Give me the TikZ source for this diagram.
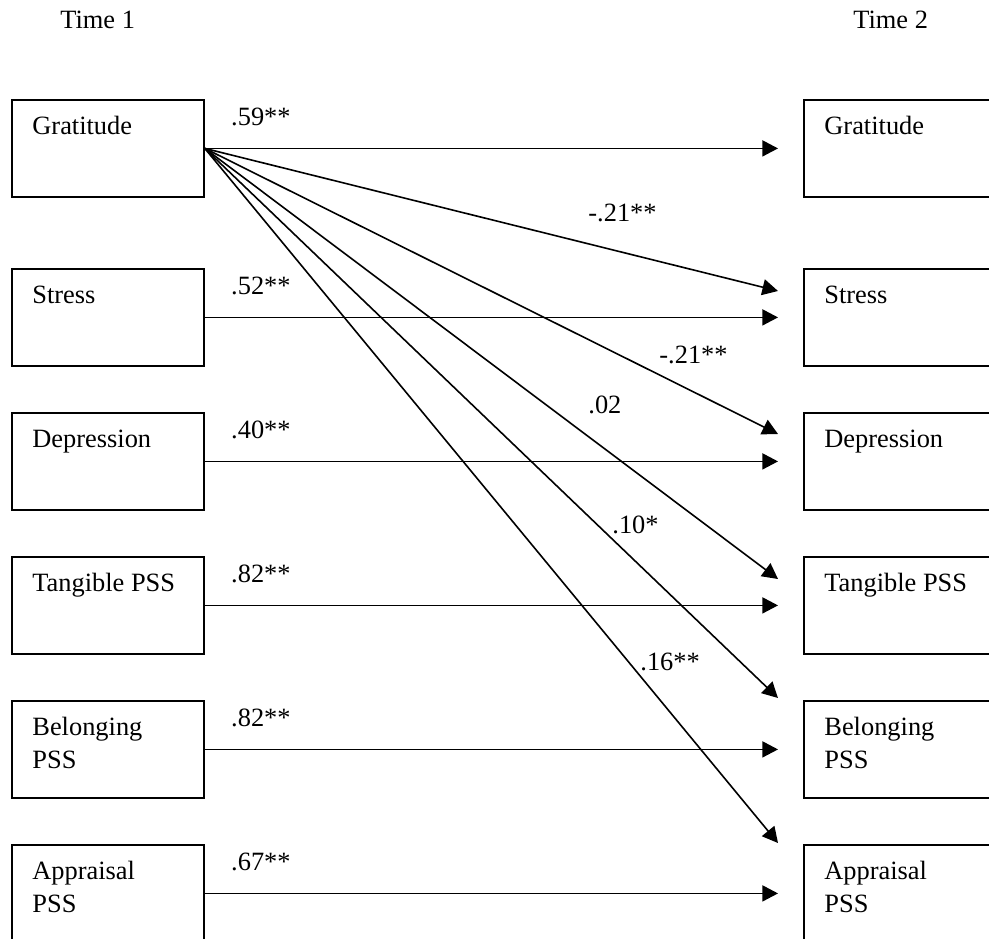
\documentclass[tikz,border=0pt]{standalone}
\usepackage{fontspec}
\setmainfont{Liberation Serif}
\usetikzlibrary{arrows.meta,calc}
\tikzset{
  varbox/.style={draw, line width=0.9pt, rectangle, inner sep=0pt, anchor=north west, minimum height=48.5pt},
  lbox/.style={varbox, minimum width=96pt},
  rbox/.style={varbox, minimum width=100pt},
  boxtext/.style={anchor=base west, inner sep=0pt, font=\fontsize{13.2}{16.5}\selectfont},
  coef/.style={anchor=base west, inner sep=0pt, font=\fontsize{13.2}{16.5}\selectfont},
  link/.style={line width=0.8pt, -{Triangle[length=7.8pt,width=8pt]}},
}
\newcommand{\twoline}[2]{\begin{tabular}[t]{@{}l@{}}#1\\#2\end{tabular}}

\begin{document}
\begin{tikzpicture}[x=0.5pt,y=-0.5pt]
\useasboundingbox (0,0) rectangle (989,938);
\clip (0,0) rectangle (989,938);

% column headings
\node[coef] (time1) at (60,28) {Time 1};
\node[coef] (time2) at (853,28) {Time 2};

% Time 1 boxes
\node[lbox] (g1) at (11,99)  {};
\node[lbox] (s1) at (11,268) {};
\node[lbox] (d1) at (11,412) {};
\node[lbox] (t1) at (11,556) {};
\node[lbox] (b1) at (11,700) {};
\node[lbox] (a1) at (11,844) {};

% Time 2 boxes
\node[rbox] (g2) at (803,99)  {};
\node[rbox] (s2) at (803,268) {};
\node[rbox] (d2) at (803,412) {};
\node[rbox] (t2) at (803,556) {};
\node[rbox] (b2) at (803,700) {};
\node[rbox] (a2) at (803,844) {};

% box captions
\foreach \n/\txt in {g/Gratitude, s/Stress, d/Depression, t/Tangible PSS,
                     b/\twoline{Belonging}{PSS}, a/\twoline{Appraisal}{PSS}}{
  \node[boxtext] (\n1txt) at ($(\n1.north west)+(21,35.5)$) {\txt};
  \node[boxtext] (\n2txt) at ($(\n2.north west)+(21,35.5)$) {\txt};
}

% stability paths
\foreach \n/\val in {g/.59**, s/.52**, d/.40**, t/.82**, b/.82**, a/.67**}{
  \draw[link] (\n1.east) -- ($(\n2.west)+(-25,0)$);
  \node[coef] (\n coef) at ($(\n1.east)+(26,-23)$) {\val};
}

% cross-lagged paths from gratitude
\coordinate (ts) at ($(s2.north west)+(-25,23)$);
\coordinate (td) at ($(d2.north west)+(-25,22)$);
\coordinate (tt) at ($(t2.north west)+(-25,23)$);
\coordinate (tb) at ($(b2.north west)+(-25,-2)$);
\coordinate (ta) at ($(a2.north west)+(-25,-1)$);
\foreach \c in {ts,td,tt,tb,ta}{
  \draw[link] (g1.east) -- (\c);
}

\node[coef] (cs) at (588,221) {-.21**};
\node[coef] (cd) at (659,363) {-.21**};
\node[coef] (ct) at (588,413) {.02};
\node[coef] (cb) at (612,533) {.10*};
\node[coef] (ca) at (640,670) {.16**};
\end{tikzpicture}
\end{document}
